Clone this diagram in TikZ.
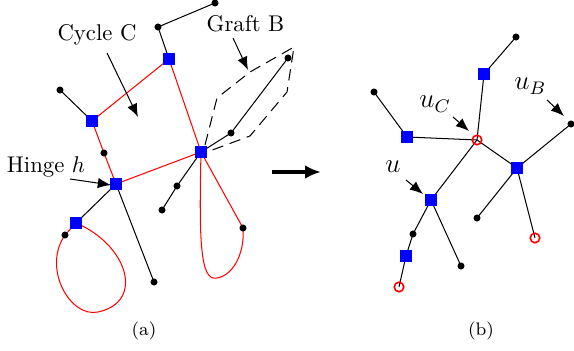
\documentclass[tikz,border=0pt]{standalone}
\usetikzlibrary{arrows.meta,backgrounds}
\begin{document}
\begin{tikzpicture}[x=0.44pt,y=-0.44pt,
  sq/.style={rectangle,fill=blue,minimum size=5.3pt,inner sep=0pt},
  dotn/.style={circle,fill=black,minimum size=3.1pt,inner sep=0pt},
  rc/.style={circle,draw=red,line width=0.7pt,minimum size=4.2pt,inner sep=0pt},
  blk/.style={line width=0.45pt,black},
  redl/.style={line width=0.45pt,red},
  lab/.style={inner sep=0pt,anchor=base},
  larr/.style={line width=0.45pt,-{Latex[length=5.8pt,width=4.6pt]}},
  bigarr/.style={line width=1.8pt,-{Latex[length=7pt,width=6pt]}}
]
\useasboundingbox (0,0) rectangle (574,351);
% ---------- (a) nodes ----------
\node[dotn] (a1) at (215,3) {};
\node[dotn] (a2) at (158,27) {};
\node[sq] (s1) at (169,59) {};
\node[dotn] (a3) at (60,90) {};
\node[sq] (s2) at (92,121) {};
\node[dotn] (a4) at (104,153) {};
\node[sq] (s3) at (116,184) {};
\node[sq] (s4) at (201,152) {};
\node[dotn] (a5) at (231,133) {};
\node[dotn] (a6) at (288,58) {};
\node[sq] (s5) at (76,223) {};
\node[dotn] (a7) at (65,235) {};
\node[dotn] (a8) at (154,282) {};
\node[dotn] (a9) at (177,186) {};
\node[dotn] (a10) at (162,210) {};
\node[dotn] (a11) at (243,228) {};
% graft outline points
\coordinate (g1) at (205,145);
\coordinate (g2) at (217,98);
\coordinate (g3) at (250,72);
\coordinate (g4) at (294,47);
\coordinate (g5) at (287,92);
\coordinate (g6) at (250,136);
\coordinate (g7) at (207,152);
\begin{scope}[on background layer]
  \draw[blk] (a1.center) -- (a2.center) -- (s1.center);
  \draw[blk] (a3.center) -- (s2.center);
  \draw[blk] (s4.center) -- (a5.center) -- (a6.center);
  \draw[blk] (s4.center) -- (a9.center) -- (a10.center);
  \draw[blk] (s3.center) -- (s5.center);
  \draw[blk] (s3.center) -- (a8.center);
  \draw[redl] (s2.center) -- (s1.center) -- (s4.center) -- (s3.center) -- (a4.center) -- (s2.center);
  \draw[redl] (s5.center) .. controls (128,245) and (145,302) .. (98,312)
     .. controls (70,318) and (42,268) .. (a7.center) -- (s5.center);
  \draw[redl] (s4.center) .. controls (199,240) and (200,282) .. (217,278)
     .. controls (235,275) and (245,250) .. (a11.center) -- (s4.center);
  \draw[blk,dashed,dash pattern=on 5pt off 3pt] (g1) -- (g2) -- (g3) -- (g4) -- (g5) -- (g6) -- (g7);
\end{scope}
% labels (a)
\node[lab] (lc) at (97,40.5) {Cycle C};
\node[lab] (lg) at (245.5,31.7) {Graft B};
\node[lab] (lh) at (46,173) {Hinge $h$};
\node[lab,font=\footnotesize] (la) at (144,336) {(a)};
\coordinate (c1) at (107,53);
\coordinate (c2) at (138,117);
\draw[larr] (c1) -- (c2);
\coordinate (gb1) at (233,38);
\coordinate (gb2) at (248,70);
\draw[larr] (gb1) -- (gb2);
\coordinate (h1) at (70,179);
\coordinate (h2) at (111,185);
\draw[larr] (h1) -- (h2);
% big arrow
\coordinate (ba1) at (272,172);
\coordinate (ba2) at (321,172);
\draw[bigarr] (ba1) -- (ba2);
% ---------- (b) nodes ----------
\node[dotn] (b1) at (516,37) {};
\node[sq] (t1) at (484,74) {};
\node[dotn] (b2) at (374,92) {};
\node[sq] (t2) at (407,137) {};
\node[rc] (uc) at (477,140) {};
\node[dotn] (b3) at (571,124) {};
\node[sq] (t3) at (517,168) {};
\node[sq] (tu) at (431,200) {};
\node[dotn] (b4) at (413,234) {};
\node[sq] (t4) at (406,256) {};
\node[rc] (r1) at (399,287) {};
\node[dotn] (b5) at (461,266) {};
\node[dotn] (b6) at (477,218) {};
\node[rc] (r2) at (535,238) {};
\begin{scope}[on background layer]
  \draw[blk] (b1.center) -- (t1.center) -- (uc.center);
  \draw[blk] (b2.center) -- (t2.center) -- (uc.center);
  \draw[blk] (uc.center) -- (tu.center);
  \draw[blk] (uc.center) -- (t3.center) -- (b3.center);
  \draw[blk] (t3.center) -- (b6.center);
  \draw[blk] (t3.center) -- (r2.center);
  \draw[blk] (tu.center) -- (b4.center) -- (t4.center) -- (r1.center);
  \draw[blk] (tu.center) -- (b5.center);
\end{scope}
\node[inner sep=0pt,anchor=base west,font=\large] (luc) at (419,108) {$u_C$};
\node[inner sep=0pt,anchor=base west,font=\large] (lub) at (514,90) {$u_B$};
\node[inner sep=0pt,anchor=base west,font=\large] (lu) at (385,173) {$u$};
\node[lab,font=\footnotesize] (lb) at (481,336) {(b)};
\coordinate (uc1) at (453,117);
\coordinate (uc2) at (469,131);
\draw[larr] (uc1) -- (uc2);
\coordinate (ub1) at (547,100);
\coordinate (ub2) at (564,116);
\draw[larr] (ub1) -- (ub2);
\coordinate (u1) at (406,180);
\coordinate (u2) at (423,194);
\draw[larr] (u1) -- (u2);
\end{tikzpicture}
\end{document}
